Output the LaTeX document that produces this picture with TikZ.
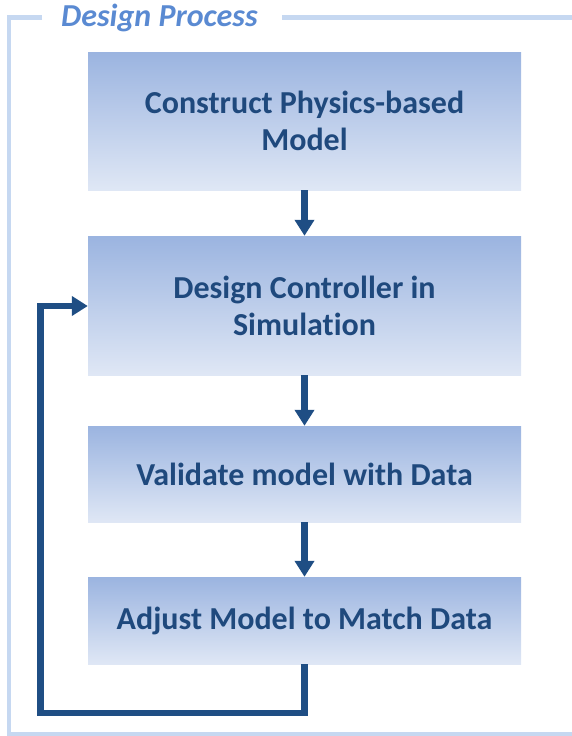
\documentclass[tikz,border=0pt]{standalone}
\usepackage{fontspec}
\setmainfont{Carlito}[Ligatures=NoCommon]
\usetikzlibrary{arrows.meta}
\definecolor{framecol}{HTML}{C6D8F1}
\definecolor{boxtop}{HTML}{9BB4E0}
\definecolor{boxbot}{HTML}{DFE7F5}
\definecolor{arrcol}{HTML}{1F4E84}
\definecolor{txtcol}{HTML}{1F497D}
\definecolor{titlecol}{HTML}{5A8AD2}
\begin{document}
\begin{tikzpicture}[x=1pt,y=1pt,
  stepbox/.style={minimum width=433pt, inner sep=0pt, top color=boxtop, bottom color=boxbot, draw=none,
    text=txtcol, font=\fontsize{32}{37}\selectfont\bfseries, align=center},
  flow/.style={draw=arrcol, line width=6.5pt, -{Triangle[width=19pt,length=16pt]}},
  framel/.style={draw=framecol, line width=4.5pt}]
\useasboundingbox (0,0) rectangle (572,-736);
% frame
\coordinate (f1) at (42,-17.5);
\coordinate (f2) at (9,-17.5);
\coordinate (f3) at (9,-734);
\coordinate (f4) at (575,-734);
\coordinate (f5) at (282,-17.5);
\coordinate (f6) at (575,-17.5);
\draw[framel, line join=miter] (f1) -- (f2) -- (f3) -- (f4);
\draw[framel] (f5) -- (f6);
\node[anchor=base west, inner sep=0pt, text=titlecol, font=\fontsize{32}{36}\selectfont\bfseries\itshape] (title) at (61,-26.5) {Design Process};
% boxes
\node[stepbox, minimum height=138pt] (b1) at (304.5,-121) {Construct Physics-based\\Model};
\node[stepbox, minimum height=139pt] (b2) at (304.5,-305.5) {Design Controller in\\Simulation};
\node[stepbox, minimum height=96pt] (b3) at (304.5,-474) {Validate model with Data};
\node[stepbox, minimum height=87pt] (b4) at (304.5,-620.5) {Adjust Model to Match Data};
% arrows
\draw[flow] (b1.south) -- (b2.north);
\draw[flow] (b2.south) -- (b3.north);
\draw[flow] (b3.south) -- (b4.north);
\coordinate (l1) at (304.5,-713);
\coordinate (l2) at (40.5,-713);
\coordinate (l3) at (40.5,-306);
\draw[flow, line join=miter] (b4.south) -- (l1) -- (l2) -- (l3) -- (b2.west |- l3);
\end{tikzpicture}
\end{document}
